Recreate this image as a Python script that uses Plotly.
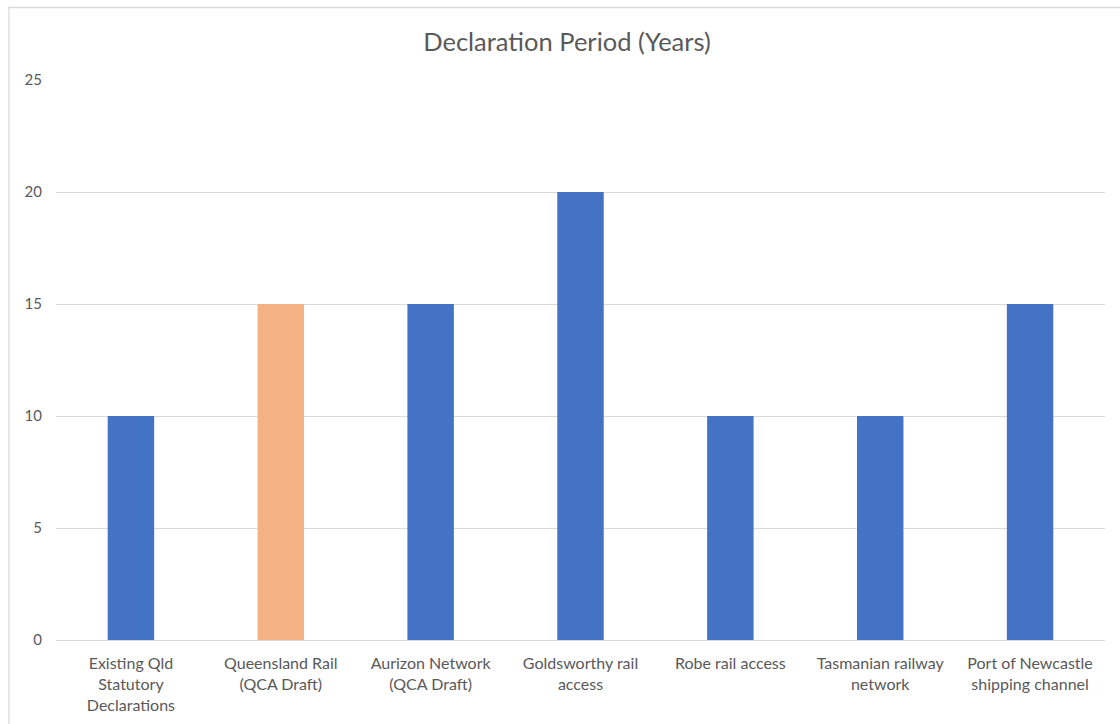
import plotly.graph_objects as go

categories = ["Existing Qld<br>Statutory<br>Declarations", "Queensland Rail<br>(QCA Draft)",
              "Aurizon Network<br>(QCA Draft)", "Goldsworthy rail<br>access", "Robe rail access",
              "Tasmanian railway<br>network", "Port of Newcastle<br>shipping channel"]
values = [10, 15, 15, 20, 10, 10, 15]
colors = ["#4472C4", "#F4B183", "#4472C4", "#4472C4", "#4472C4", "#4472C4", "#4472C4"]
y_ticks = [0, 5, 10, 15, 20, 25]

W, H = 1120, 724
L, R, T, B = 56, 15, 80, 84
pw, ph = W - L - R, H - T - B

fig = go.Figure(go.Bar(x=categories, y=values, marker=dict(color=colors, line=dict(width=0)),
                       width=0.31))

def px2x(px):
    return (px - L) / pw

def py2y(py):
    return (H - B - py) / ph

border = dict(type="rect", xref="paper", yref="paper",
              x0=px2x(9), x1=px2x(1130), y0=py2y(740), y1=py2y(7.5),
              line=dict(color="#D9D9D9", width=1.3), fillcolor="rgba(0,0,0,0)", layer="below")

fig.update_layout(
    width=W, height=H,
    margin=dict(l=L, r=R, t=T, b=B, autoexpand=False),
    paper_bgcolor="white", plot_bgcolor="white",
    font=dict(family="Lato, Open Sans, sans-serif", color="#595959", size=15),
    title=dict(text="Declaration Period (Years)", x=567 / W, xanchor="center", y=1 - 42 / H,
               yanchor="middle", font=dict(size=25.5, color="#595959")),
    showlegend=False,
    shapes=[border],
    xaxis=dict(showgrid=False, showline=False, ticks="outside", ticklen=9, automargin=False,
               tickcolor="rgba(0,0,0,0)", tickfont=dict(size=16, color="#595959"),
               fixedrange=True),
    yaxis=dict(range=[0, 25], tickvals=y_ticks, showgrid=True, gridcolor="#D9D9D9", gridwidth=1,
               zeroline=True, zerolinecolor="#D9D9D9", zerolinewidth=1, showline=False,
               ticks="outside", ticklen=10, tickcolor="rgba(0,0,0,0)", automargin=False,
               tickfont=dict(size=15, color="#595959")),
)

fig.write_html("out.html")
